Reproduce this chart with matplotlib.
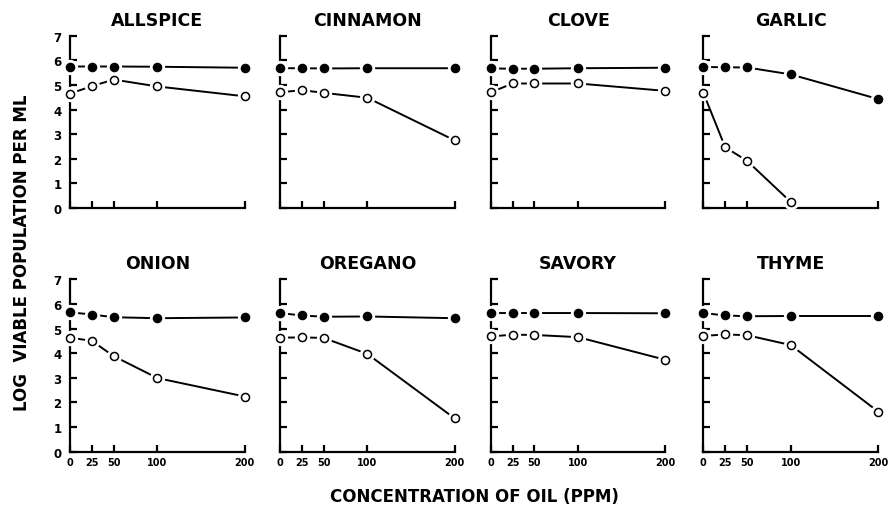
import matplotlib
matplotlib.use("Agg")
import matplotlib.pyplot as plt

plt.rcParams.update({
    "font.family": "DejaVu Sans",
    "font.weight": "bold",
})

# concentration of oil (ppm)
conc = [0, 25, 50, 100, 200]

oils = ["ALLSPICE", "CINNAMON", "CLOVE", "GARLIC",
        "ONION", "OREGANO", "SAVORY", "THYME"]

# filled circles
filled = {
    "ALLSPICE": [5.75, 5.75, 5.75, 5.74, 5.70],
    "CINNAMON": [5.68, 5.68, 5.67, 5.68, 5.68],
    "CLOVE":    [5.67, 5.66, 5.66, 5.68, 5.70],
    "GARLIC":   [5.73, 5.72, 5.71, 5.43, 4.43],
    "ONION":    [5.66, 5.57, 5.46, 5.42, 5.45],
    "OREGANO":  [5.63, 5.53, 5.48, 5.49, 5.42],
    "SAVORY":   [5.63, 5.63, 5.63, 5.63, 5.62],
    "THYME":    [5.63, 5.53, 5.50, 5.51, 5.51],
}

# open circles (garlic has no point at 200 ppm)
opened = {
    "ALLSPICE": ([0, 25, 50, 100, 200], [4.65, 4.95, 5.22, 4.94, 4.54]),
    "CINNAMON": ([0, 25, 50, 100, 200], [4.70, 4.79, 4.68, 4.48, 2.75]),
    "CLOVE":    ([0, 25, 50, 100, 200], [4.70, 5.06, 5.06, 5.06, 4.76]),
    "GARLIC":   ([0, 25, 50, 100],      [4.68, 2.47, 1.92, 0.25]),
    "ONION":    ([0, 25, 50, 100, 200], [4.63, 4.50, 3.88, 2.99, 2.24]),
    "OREGANO":  ([0, 25, 50, 100, 200], [4.63, 4.64, 4.62, 3.97, 1.35]),
    "SAVORY":   ([0, 25, 50, 100, 200], [4.68, 4.75, 4.74, 4.65, 3.73]),
    "THYME":    ([0, 25, 50, 100, 200], [4.70, 4.76, 4.73, 4.33, 1.63]),
}

y_ticks = [0, 1, 2, 3, 4, 5, 6, 7]

fig = plt.figure(figsize=(8.96, 5.10), dpi=100)

lefts = [0.0781, 0.3125, 0.5477, 0.785]
bottoms = [0.590, 0.1124]
w, h = 0.195, 0.338

for i, oil in enumerate(oils):
    row, col = divmod(i, 4)
    ax = fig.add_axes([lefts[col], bottoms[row], w, h])

    ox, oy = opened[oil]
    for xs, ys, face in ((conc, filled[oil], "black"), (ox, oy, "white")):
        ax.plot(xs, ys, "-", color="black", lw=1.4, zorder=2, clip_on=False)
        # white halo gives the small gaps next to each marker
        ax.plot(xs, ys, "o", color="white", ms=10, zorder=3, clip_on=False)
        ax.plot(xs, ys, "o", mfc=face, mec="black", mew=1.1, ms=5.8,
                zorder=4, clip_on=False)

    ax.set_xlim(0, 200)
    ax.set_ylim(0, 7)
    ax.set_xticks(conc)
    ax.set_yticks(y_ticks)
    for s in ("top", "right"):
        ax.spines[s].set_visible(False)
    for s in ("left", "bottom"):
        ax.spines[s].set_linewidth(1.6)
    ax.tick_params(direction="in", length=5, width=1.6)
    ax.tick_params(axis="y", labelsize=8.5, pad=6)
    ax.tick_params(axis="x", labelsize=7, pad=4)
    if col != 0:
        ax.set_yticklabels([])
    if row == 0:
        ax.set_xticklabels([])
    ax.set_title(oil, fontsize=12.5, fontweight="bold", pad=8)

fig.text(0.024, 0.505, "LOG  VIABLE POPULATION PER ML", rotation=90,
         ha="center", va="center", fontsize=12, fontweight="bold")
fig.text(0.53, 0.025, "CONCENTRATION OF OIL (PPM)",
         ha="center", va="center", fontsize=12, fontweight="bold")

fig.savefig("out.png", dpi=100)
